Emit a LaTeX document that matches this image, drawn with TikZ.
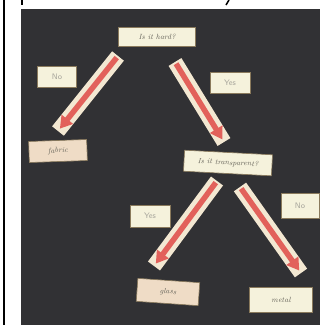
\documentclass[tikz,border=0pt]{standalone}
\usepackage{fontspec}
\usetikzlibrary{arrows.meta}
\definecolor{cloth}{HTML}{313134}
\definecolor{paper}{HTML}{F5F2DC}
\definecolor{peach}{HTML}{EFDCC6}
\definecolor{edge}{HTML}{8A7A5C}
\definecolor{ink}{HTML}{66645A}
\definecolor{pale}{HTML}{A8A69C}
\definecolor{stripcol}{HTML}{F3E8D2}
\definecolor{redcol}{HTML}{E2615B}
\tikzset{
  card/.style={draw=edge, line width=0.6pt, fill=paper, inner sep=0pt, text=ink,
    font=\fontsize{7.5}{8}\selectfont\itshape\addfontfeature{LetterSpace=16}},
  answer/.style={draw=edge, line width=0.6pt, fill=paper, inner sep=0pt, text=pale,
    font=\fontsize{8}{9}\sffamily},
  strip/.style={line width=15pt, color=stripcol},
  redarrow/.style={line width=5.5pt, color=redcol, shorten <=2pt, shorten >=3pt,
    -{Triangle[width=14pt,length=12pt]}}
}
\begin{document}
\begin{tikzpicture}[x=1pt,y=-1pt]
        \useasboundingbox (0,0) rectangle (320,325);
        \fill[white] (0,0) rectangle (320,325);
        \fill[cloth] (21,9) rectangle (320,325);
        \draw[line width=2pt] (4,0) -- (4,325);
        \draw[line width=1.5pt] (22,0) -- (22,5);
        \draw[line width=1.5pt] (229,0) -- (226,5);
        % strips
        \coordinate (A) at (118,56);
        \coordinate (B) at (58,131);
        \coordinate (C) at (175,62);
        \coordinate (D) at (224,142);
        \coordinate (E) at (217,181);
        \coordinate (F) at (154,266);
        \coordinate (G) at (240,187);
        \coordinate (H) at (301,273);
        \draw[strip] (A) -- (B);
        \draw[strip] (C) -- (D);
        \draw[strip] (E) -- (F);
        \draw[strip] (G) -- (H);
        \draw[redarrow] (A) -- (B);
        \draw[redarrow] (C) -- (D);
        \draw[redarrow] (E) -- (F);
        \draw[redarrow] (G) -- (H);
        % cards
        \node[card, minimum width=77pt, minimum height=19pt] (hard) at (157,37) {Is it hard?};
        \node[answer, minimum width=39pt, minimum height=21pt] (no1) at (57,77) {No};
        \node[answer, minimum width=40pt, minimum height=21pt] (yes1) at (230,83) {Yes};
        \node[card, fill=peach, minimum width=58pt, minimum height=21pt, rotate=2] (fabric) at (58,151) {fabric};
        \node[card, minimum width=88pt, minimum height=21pt, rotate=-3] (trans) at (228,163) {Is it transparent?};
        \node[answer, minimum width=40pt, minimum height=22pt] (yes2) at (150,216) {Yes};
        \node[answer, minimum width=38pt, minimum height=25pt] (no2) at (300,206) {No};
        \node[card, fill=peach, minimum width=62pt, minimum height=23pt, rotate=-4] (glass) at (168,292) {glass};
        \node[card, minimum width=63pt, minimum height=25pt] (metal) at (281,300) {metal};
\end{tikzpicture}
\end{document}
